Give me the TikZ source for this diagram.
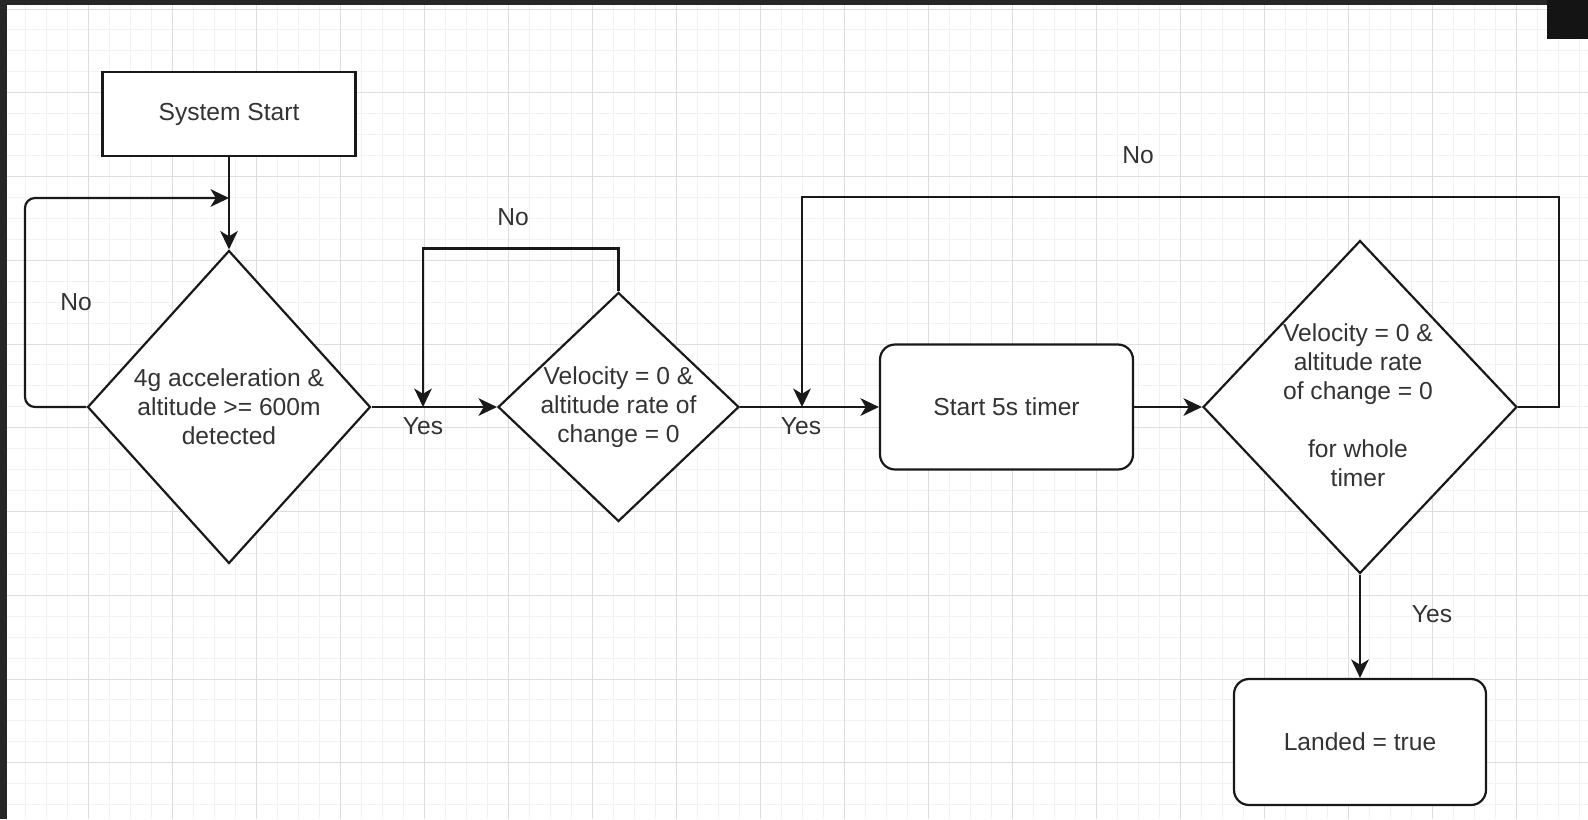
\documentclass[tikz,border=0pt]{standalone}
\usepackage{fontspec}
\setmainfont{Liberation Sans}
\usetikzlibrary{shapes.geometric,arrows.meta}
\definecolor{gridminor}{HTML}{F2F2F2}
\definecolor{gridmajor}{HTML}{DEDEDE}
\definecolor{framedark}{HTML}{262626}
\definecolor{txtgray}{HTML}{333333}
\begin{document}
\begin{tikzpicture}[x=0.02cm,y=-0.02cm,
  lbl/.style={font=\fontsize{14pt}{16.5pt}\selectfont, text=txtgray, inner sep=0pt, align=center},
  flowline/.style={line width=1.25pt, draw=black!90},
  arr/.style={flowline, -{Stealth[length=10.5pt,width=10pt,inset=3pt]}},
  procbox/.style={draw=black!90, line width=1.25pt, fill=white, inner sep=0pt,
    font=\fontsize{14pt}{16.5pt}\selectfont, text=txtgray},
  roundbox/.style={procbox, rounded corners=0.3cm},
  decision/.style={shape=diamond, draw=black!90, line width=1.25pt, fill=white, inner sep=0pt}]
% page background
\useasboundingbox (0,0) rectangle (1588,819);
\fill[framedark] (0,0) rectangle (1588,819);
\fill[white] (7,5) rectangle (1588,819);
\begin{scope}
  \clip (7,5) rectangle (1588,819);
  \foreach \x in {25,46,...,1588} \draw[gridminor, line width=0.55pt] (\x,5) -- (\x,819);
  \foreach \y in {9,29.9375,...,819} \draw[gridminor, line width=0.55pt] (7,\y) -- (1588,\y);
  \foreach \x in {88,172,...,1588} \draw[gridmajor, line width=0.55pt] (\x,5) -- (\x,819);
  \foreach \y in {9,92.75,...,819} \draw[gridmajor, line width=0.55pt] (7,\y) -- (1588,\y);
\end{scope}
\fill[black!92] (1547,0) rectangle (1588,39);

% nodes
\node[procbox, minimum width=5.06cm, minimum height=1.68cm] (start) at (229,114) {System Start};
\node[decision, minimum width=5.66cm, minimum height=6.26cm] (d1) at (229,407) {};
\node[lbl] (t1) at (d1.center) {4g acceleration \&\\altitude >= 600m\\detected};
\node[decision, minimum width=4.82cm, minimum height=4.58cm] (d2) at (618.5,407) {};
\node[lbl] (t2) at (d2.center) {Velocity = 0 \&\\altitude rate of\\change = 0};
\node[roundbox, minimum width=5.06cm, minimum height=2.5cm] (timer) at (1006.5,407) {Start 5s timer};
\node[decision, minimum width=6.28cm, minimum height=6.66cm] (d3) at (1360,407) {};
\node[lbl] (t3) at (1358,405) {Velocity = 0 \&\\altitude rate\\of change = 0\\[16.5pt]for whole\\timer};
\node[roundbox, minimum width=5.04cm, minimum height=2.52cm] (landed) at (1360,742) {Landed = true};

% junction points
\coordinate (j1) at (229,198);
\coordinate (j2) at (423,407);
\coordinate (j3) at (802,407);

% connectors
\draw[arr] (start.south) -- (d1.north);
\draw[arr] (d1.east) -- (d2.west);
\draw[arr] (d2.east) -- (timer.west);
\draw[arr] (timer.east) -- (d3.west);
\draw[arr] (d3.south) -- (landed.north);
\draw[arr, rounded corners=0.2cm] (d1.west) -| (25,198) -- (j1);
\draw[arr] (d2.north) -- ++(0,-43) -| (j2);
\draw[arr] (d3.east) -| (1559,197) -| (j3);

% labels
\node[lbl] (no1) at (76,302) {No};
\node[lbl] (yes1) at (423,426) {Yes};
\node[lbl] (no2) at (513,217) {No};
\node[lbl] (yes2) at (801,426) {Yes};
\node[lbl] (no3) at (1138,155) {No};
\node[lbl] (yes3) at (1432,614) {Yes};
\end{tikzpicture}
\end{document}
